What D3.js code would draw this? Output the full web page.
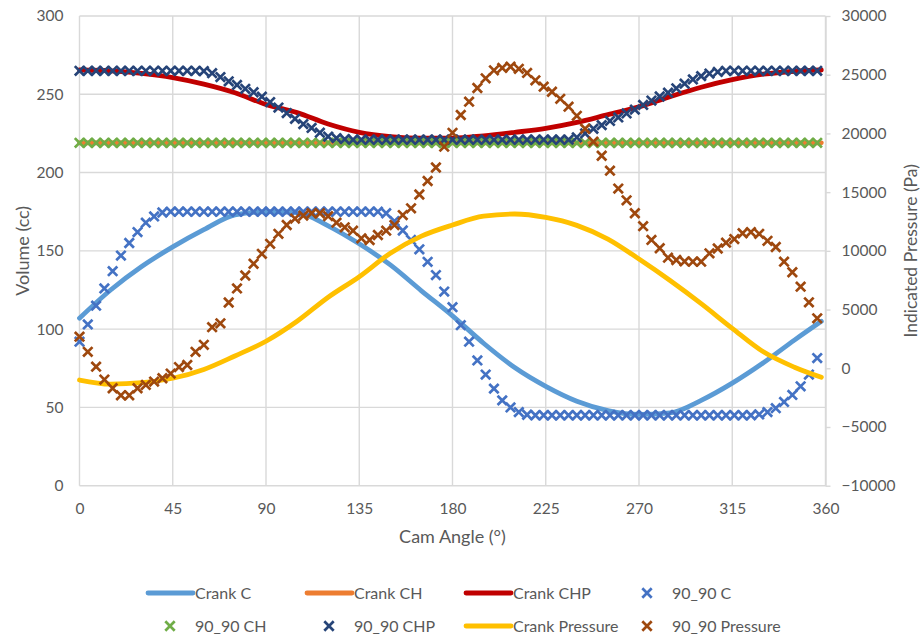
<!DOCTYPE html>
<html>
<head>
<meta charset="utf-8">
<script src="https://cdn.jsdelivr.net/npm/d3@7"></script>
<style>
  body { margin: 0; background: #fff; }
  svg { display: block; font-family: Lato, "Open Sans", sans-serif; }
</style>
</head>
<body>
<div id="chart"></div>
<script>
// x categories (cam angle, degrees)
const lineAngles = [0, 15, 30, 45, 60, 75, 90, 105, 120, 135, 150, 165, 180, 195, 210, 225, 240, 255, 270, 285, 300, 315, 330, 345, 358];
const markerAngles = [0, 4, 8, 12, 16, 20, 24, 28, 32, 36, 40, 44, 48, 52, 56, 60, 64, 68, 72, 76, 80, 84, 88, 92, 96, 100, 104, 108, 112, 116,
  120, 124, 128, 132, 136, 140, 144, 148, 152, 156, 160, 164, 168, 172, 176, 180, 184, 188, 192, 196, 200, 204, 208, 212, 216, 220, 224, 228, 232, 236,
  240, 244, 248, 252, 256, 260, 264, 268, 272, 276, 280, 284, 288, 292, 296, 300, 304, 308, 312, 316, 320, 324, 328, 332, 336, 340, 344, 348, 352, 356];

// volume series (cc), left axis
const crankC = [107, 125, 140, 152.5, 163.5, 173, 175, 174.5, 166, 154.5, 141, 124.5, 108.5, 91, 75.5, 63.5, 54, 48, 45.5, 46.5, 54.5, 65.5, 78.5, 93, 105];
const crankCH = [219, 219, 219, 219, 219, 219, 219, 219, 219, 219, 219, 219, 219, 219, 219, 219, 219, 219, 219, 219, 219, 219, 219, 219, 219];
const crankCHP = [265.5, 265, 263.4, 260.7, 256.5, 251, 243.5, 238.3, 231, 225.7, 223, 222, 222, 223.5, 225.7, 228.2, 232, 237, 242, 248.5, 254.5, 259.3, 262.8, 264.7, 265.5];

const c9090 = [92, 103, 115, 126, 137, 147, 155, 162, 168, 172, 174.5, 175, 175, 175, 175, 175, 175, 175, 175, 175, 175, 175, 175, 175, 175, 175, 175, 175, 175, 175,
  175, 175, 175, 175, 175, 175, 175, 174, 169, 163, 157, 151, 143, 134.5, 124, 114, 102.5, 92, 80, 71, 62, 54.5, 50, 47, 45.3, 45, 45, 45, 45, 45,
  45, 45, 45, 45, 45, 45, 45, 45, 45, 45, 45, 45, 45, 45, 45, 45, 45, 45, 45, 45, 45, 45, 45.5, 47, 49.5, 53.5, 58, 63.5, 71, 81.5];
const ch9090 = [219, 219, 219, 219, 219, 219, 219, 219, 219, 219, 219, 219, 219, 219, 219, 219, 219, 219, 219, 219, 219, 219, 219, 219, 219, 219, 219, 219, 219, 219,
  219, 219, 219, 219, 219, 219, 219, 219, 219, 219, 219, 219, 219, 219, 219, 219, 219, 219, 219, 219, 219, 219, 219, 219, 219, 219, 219, 219, 219, 219,
  219, 219, 219, 219, 219, 219, 219, 219, 219, 219, 219, 219, 219, 219, 219, 219, 219, 219, 219, 219, 219, 219, 219, 219, 219, 219, 219, 219, 219, 219];
const chp9090 = [265, 265, 265, 265, 265, 265, 265, 265, 265, 265, 265, 265, 265, 265, 265, 264.8, 263.5, 261, 258.3, 256, 253.5, 251.3, 248.5, 245, 241.5, 238, 234.3, 231, 228.5, 225.5,
  223, 222, 221.3, 221, 221, 221, 221, 221, 221, 221, 221, 221, 221, 221, 221, 221, 221, 221, 221, 221, 221, 221, 221, 221, 221, 221, 221, 221, 221, 221,
  222.5, 225, 228, 230.3, 233, 235.2, 237.8, 240.2, 243.2, 246, 248.6, 251, 253.8, 256.8, 259.5, 261.6, 263.2, 264.3, 265, 265, 265, 265, 265, 265, 265, 265, 265, 265, 265, 265];

// pressure series (Pa), right axis
const crankPressure = [-1000, -1350, -1230, -850, -100, 1050, 2300, 4000, 6050, 7800, 9800, 11250, 12200, 12950, 13140, 12850, 12170, 11000, 9300, 7470, 5500, 3400, 1400, 90, -770];
const p9090 = [2690, 1400, 140, -960, -1700, -2300, -2300, -1700, -1420, -1135, -850, -450, 100, 280, 1400, 2000, 3500, 3830, 5600, 6800, 7900, 8900, 9750, 10600, 11450, 12200, 12750, 13000, 13200, 13200,
  12950, 12400, 12000, 11720, 11070, 10925, 11350, 11720, 12200, 13050, 13620, 14800, 15950, 17100, 18870, 20050, 21570, 22700, 23870, 24690, 25370, 25580, 25680, 25500, 25150, 24520, 23980, 23550, 22950, 22280,
  21500, 20400, 19300, 18100, 16830, 15300, 14300, 13200, 12100, 10930, 10220, 9420, 9220, 9100, 9080, 9080, 9790, 10200, 10700, 11000, 11500, 11600, 11450, 10850, 10330, 9080, 8180, 6950, 5620, 4250];

const xTicks = [0, 45, 90, 135, 180, 225, 270, 315, 360];
const leftTicks = [0, 50, 100, 150, 200, 250, 300];
const rightTicks = [-10000, -5000, 0, 5000, 10000, 15000, 20000, 25000, 30000];

const width = 923, height = 637;
const plotLeft = 79.5, plotRight = 825.5, plotTop = 16, plotBottom = 485.7;
const textColor = '#595959';
const gridColor = '#d9d9d9';

const x = d3.scaleLinear().domain([0, 360]).range([plotLeft, plotRight]);
const yL = d3.scaleLinear().domain([0, 300]).range([plotBottom, plotTop]);
const yR = d3.scaleLinear().domain([-10000, 30000]).range([plotBottom, plotTop]);

const svg = d3.select('#chart')
  .append('svg')
  .attr('width', width)
  .attr('height', height);

svg.append('rect').attr('width', width).attr('height', height).attr('fill', '#fff');

// gridlines
svg.append('g')
  .selectAll('line')
  .data(leftTicks)
  .enter()
  .append('line')
  .attr('x1', plotLeft).attr('x2', plotRight)
  .attr('y1', d => yL(d)).attr('y2', d => yL(d))
  .attr('stroke', gridColor).attr('stroke-width', 1.4);

svg.append('g')
  .selectAll('line')
  .data(xTicks)
  .enter()
  .append('line')
  .attr('x1', d => x(d)).attr('x2', d => x(d))
  .attr('y1', plotTop).attr('y2', plotBottom)
  .attr('stroke', gridColor).attr('stroke-width', 1.4);

// axes
const axisLeft = svg.append('g')
  .attr('transform', `translate(${plotLeft},0)`)
  .call(d3.axisLeft(yL).tickValues(leftTicks).tickSize(0).tickPadding(16));

const axisBottom = svg.append('g')
  .attr('transform', `translate(0,${plotBottom})`)
  .call(d3.axisBottom(x).tickValues(xTicks).tickSize(0).tickPadding(17));

const axisRight = svg.append('g')
  .attr('transform', `translate(${plotRight},0)`)
  .call(d3.axisRight(yR).tickValues(rightTicks).tickFormat(d3.format('d'))
    .tickSize(5).tickSizeOuter(0).tickPadding(11));

[axisLeft, axisBottom, axisRight].forEach(g => {
  g.select('.domain').attr('stroke', axisRight === g ? gridColor : 'none').attr('stroke-width', 1.4);
  g.selectAll('.tick line').attr('stroke', gridColor).attr('stroke-width', 1.4);
  g.selectAll('text').attr('fill', textColor).style('font-size', '15.5px').style('font-family', 'Lato, "Open Sans", sans-serif');
});

// axis titles
svg.append('text')
  .attr('x', (plotLeft + plotRight) / 2)
  .attr('y', 543)
  .attr('text-anchor', 'middle')
  .attr('fill', textColor)
  .style('font-size', '18px')
  .text('Cam Angle (°)');

svg.append('text')
  .attr('transform', `translate(29,${(plotTop + plotBottom) / 2}) rotate(-90)`)
  .attr('text-anchor', 'middle')
  .attr('fill', textColor)
  .style('font-size', '18px')
  .text('Volume (cc)');

svg.append('text')
  .attr('transform', `translate(917,${(plotTop + plotBottom) / 2}) rotate(-90)`)
  .attr('text-anchor', 'middle')
  .attr('fill', textColor)
  .style('font-size', '17.5px')
  .text('Indicated Pressure (Pa)');

// series
const xMark = 'M-4.7,-4.7L4.7,4.7M-4.7,4.7L4.7,-4.7';

function drawLine(values, scale, color) {
  const line = d3.line()
    .x((d, i) => x(lineAngles[i]))
    .y(d => scale(d))
    .curve(d3.curveMonotoneX);
  svg.append('path')
    .datum(values)
    .attr('d', line)
    .attr('fill', 'none')
    .attr('stroke', color)
    .attr('stroke-width', 4.8)
    .attr('stroke-linecap', 'round')
    .attr('stroke-linejoin', 'round');
}

function drawMarkers(values, scale, color) {
  svg.append('g')
    .selectAll('path')
    .data(values)
    .enter()
    .append('path')
    .attr('transform', (d, i) => `translate(${x(markerAngles[i])},${scale(d)})`)
    .attr('d', xMark)
    .attr('fill', 'none')
    .attr('stroke', color)
    .attr('stroke-width', 2.7);
}

drawLine(crankC, yL, '#5b9bd5');
drawLine(crankCH, yL, '#ed7d31');
drawLine(crankCHP, yL, '#c00000');
drawMarkers(c9090, yL, '#4472c4');
drawMarkers(ch9090, yL, '#70ad47');
drawMarkers(chp9090, yL, '#264478');
drawLine(crankPressure, yR, '#ffc000');
drawMarkers(p9090, yR, '#9e480e');

// legend
const legendItems = [
  { name: 'Crank C', type: 'line', color: '#5b9bd5' },
  { name: 'Crank CH', type: 'line', color: '#ed7d31' },
  { name: 'Crank CHP', type: 'line', color: '#c00000' },
  { name: '90_90 C', type: 'mark', color: '#4472c4' },
  { name: '90_90 CH', type: 'mark', color: '#70ad47' },
  { name: '90_90 CHP', type: 'mark', color: '#264478' },
  { name: 'Crank Pressure', type: 'line', color: '#ffc000' },
  { name: '90_90 Pressure', type: 'mark', color: '#9e480e' }
];
const legendCols = [148, 307, 466, 625];
const legendRows = [593, 626];

const item = svg.append('g')
  .selectAll('g')
  .data(legendItems)
  .enter()
  .append('g')
  .attr('transform', (d, i) => `translate(${legendCols[i % 4]},${legendRows[Math.floor(i / 4)]})`);

item.filter(d => d.type === 'line')
  .append('line')
  .attr('x1', 0).attr('x2', 45)
  .attr('y1', 0).attr('y2', 0)
  .attr('stroke', d => d.color)
  .attr('stroke-width', 4.8)
  .attr('stroke-linecap', 'round');

item.filter(d => d.type === 'mark')
  .append('path')
  .attr('transform', 'translate(22,0)')
  .attr('d', xMark)
  .attr('fill', 'none')
  .attr('stroke', d => d.color)
  .attr('stroke-width', 2.7);

item.append('text')
  .attr('x', 47)
  .attr('y', 5.5)
  .attr('fill', textColor)
  .style('font-size', '16px')
  .text(d => d.name);
</script>
</body>
</html>
